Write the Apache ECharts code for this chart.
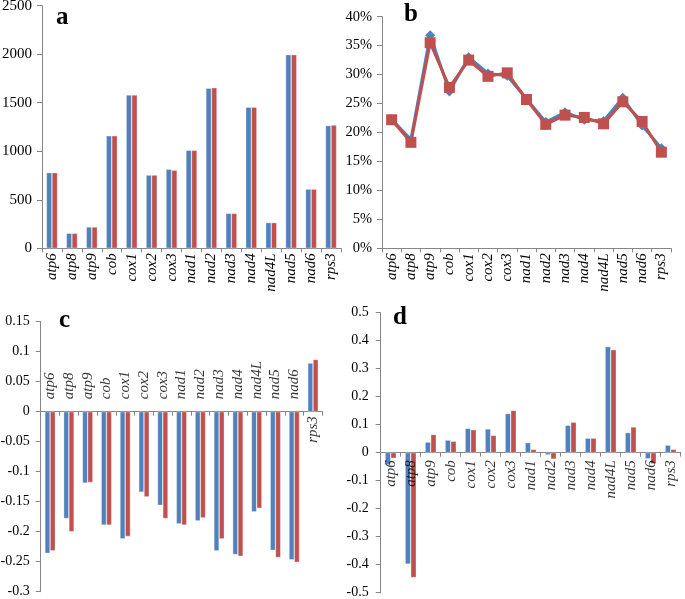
<!DOCTYPE html>
<html>
<head>
<meta charset="utf-8">
<script src="https://cdn.jsdelivr.net/npm/echarts@6/dist/echarts.min.js"></script>
<style>
html,body{margin:0;padding:0;background:#fff;}
#chart{width:685px;height:599px;}
</style>
</head>
<body>
<div id="chart"></div>
<script>
const categories = ['atp6','atp8','atp9','cob','cox1','cox2','cox3','nad1','nad2','nad3','nad4','nad4L','nad5','nad6','rps3'];

const aBlue = [780,155,220,1160,1580,755,815,1010,1650,360,1455,265,1995,610,1265];
const aRed  = [780,155,220,1160,1580,755,805,1010,1655,360,1455,265,1995,610,1270];

const bBlue = [22.3,18.8,36.8,27.1,33.0,30.2,29.8,25.8,21.8,23.5,22.2,22.0,26.0,21.2,17.3];
const bRed  = [22.2,18.3,35.5,27.8,32.5,29.7,30.3,25.7,21.4,23.0,22.6,21.5,25.3,21.9,16.6];

const cBlue = [-0.236,-0.178,-0.119,-0.189,-0.212,-0.134,-0.156,-0.187,-0.182,-0.232,-0.238,-0.167,-0.231,-0.247,0.081];
const cRed  = [-0.232,-0.200,-0.118,-0.189,-0.208,-0.142,-0.178,-0.189,-0.177,-0.212,-0.241,-0.161,-0.243,-0.251,0.087];

const dBlue = [-0.044,-0.398,0.038,0.045,0.087,0.085,0.140,0.036,-0.008,0.098,0.052,0.379,0.072,-0.022,0.027];
const dRed  = [-0.020,-0.446,0.065,0.041,0.082,0.062,0.151,0.012,-0.023,0.109,0.052,0.368,0.092,-0.040,0.012];

const panelLetters = ['a','b','c','d'];

const BLUE = '#4F81BD', RED = '#C0504D';
const AX = '#868686';
const SERIF = '"Liberation Serif","Times New Roman",serif';

const chart = echarts.init(document.getElementById('chart'), null, {renderer:'canvas'});

function catAxis(gridIndex, showLabel) {
  return {
    type:'category', gridIndex, data:categories,
    axisLine:{show:true, onZero:true, lineStyle:{color:AX, width:1}},
    axisTick:{show:true, length:4, lineStyle:{color:AX}},
    axisLabel:{show:showLabel, rotate:90, fontFamily:SERIF, fontStyle:'italic', fontSize:15, color:'#000', margin:5, interval:0},
    splitLine:{show:false}
  };
}
function valAxis(gridIndex, min, max, interval, fmt, fs, margin) {
  return {
    type:'value', gridIndex, min, max, interval,
    axisLine:{show:true, lineStyle:{color:AX, width:1}},
    axisTick:{show:true, length:5, lineStyle:{color:AX}},
    axisLabel:{fontFamily:SERIF, fontSize:fs, color:'#000', margin, formatter:fmt},
    splitLine:{show:false}
  };
}
function bars(xi, yi, data, color) {
  return {type:'bar', xAxisIndex:xi, yAxisIndex:yi, data, barGap:'0%', barCategoryGap:'44%',
    itemStyle:{color, borderColor:'rgba(255,255,255,0.55)', borderWidth:0.6}, silent:true, z:2};
}
// category names drawn at the zero line, on the side opposite to the bars
function zeroLabels(xi, yi, signRef, distUp, distDown) {
  return {
    type:'scatter', xAxisIndex:xi, yAxisIndex:yi, symbolSize:1, silent:true, z:20,
    itemStyle:{color:'rgba(0,0,0,0)'},
    data: categories.map((c, i) => {
      const above = signRef ? signRef[i] < 0 : false;
      return {
        value:[c, 0],
        label:{
          show:true, formatter:c, rotate:90,
          position: above ? 'top' : 'bottom',
          distance: above ? distUp : distDown,
          align: above ? 'left' : 'right', verticalAlign:'middle',
          fontFamily:SERIF, fontStyle:'italic', fontSize:15, color:'#000'
        }
      };
    })
  };
}

const option = {
  backgroundColor:'#fff',
  animation:false,
  grid:[
    {left:42, top:5.7, width:299, height:242.6, outerBoundsMode:'none', containLabel:false},
    {left:382, top:16.7, width:289, height:231.6, outerBoundsMode:'none', containLabel:false},
    {left:40.7, top:321.7, width:281.7, height:270, outerBoundsMode:'none', containLabel:false},
    {left:380.7, top:312.7, width:300, height:280, outerBoundsMode:'none', containLabel:false}
  ],
  xAxis:[
    catAxis(0, true),
    catAxis(1, true),
    catAxis(2, false),
    catAxis(3, false)
  ],
  yAxis:[
    valAxis(0, 0, 2500, 500, (v)=>String(v), 15, 10),
    valAxis(1, 0, 40, 5, (v)=>v+'%', 14.5, 10),
    valAxis(2, -0.3, 0.15, 0.05, (v)=>String(+v.toFixed(2)), 14, 11),
    valAxis(3, -0.5, 0.5, 0.1, (v)=>String(+v.toFixed(1)), 14, 12)
  ],
  series:[
    bars(0,0,aBlue,BLUE), bars(0,0,aRed,RED),
    {type:'line', xAxisIndex:1, yAxisIndex:1, data:bBlue, symbol:'diamond', symbolSize:10,
      lineStyle:{color:BLUE, width:3}, itemStyle:{color:BLUE}, silent:true},
    {type:'line', xAxisIndex:1, yAxisIndex:1, data:bRed, symbol:'rect', symbolSize:11,
      lineStyle:{color:RED, width:3}, itemStyle:{color:RED}, silent:true},
    bars(2,2,cBlue,BLUE), bars(2,2,cRed,RED),
    zeroLabels(2,2,cBlue,12,4),
    bars(3,3,dBlue,BLUE), bars(3,3,dRed,RED),
    zeroLabels(3,3,null,7,7)
  ],
  graphic:[
    {type:'text', left:56, top:5, style:{text:panelLetters[0], font:'bold 25px '+SERIF, fill:'#000'}},
    {type:'text', left:404, top:2, style:{text:panelLetters[1], font:'bold 25px '+SERIF, fill:'#000'}},
    {type:'text', left:59, top:308, style:{text:panelLetters[2], font:'bold 25px '+SERIF, fill:'#000'}},
    {type:'text', left:393, top:305, style:{text:panelLetters[3], font:'bold 25px '+SERIF, fill:'#000'}}
  ]
};
chart.setOption(option);
</script>
</body>
</html>
